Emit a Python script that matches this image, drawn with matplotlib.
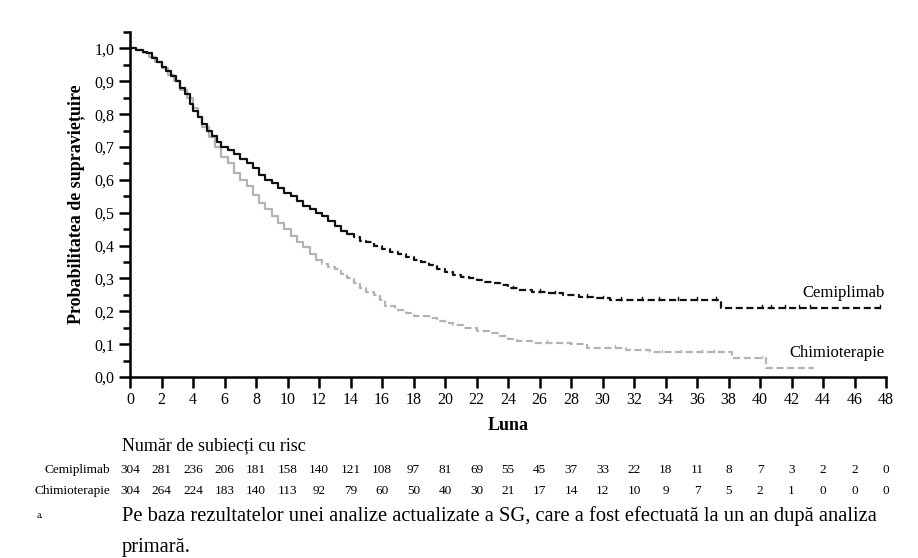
import numpy as np
import matplotlib
matplotlib.use('Agg')
import matplotlib.pyplot as plt
from matplotlib.ticker import MultipleLocator, FuncFormatter

plt.rcParams['font.family'] = ['Liberation Serif', 'DejaVu Serif']

# Kaplan-Meier knots (month, survival)
cemi_t = [0, 0.4, 0.8, 1.1, 1.4, 1.7, 2.0, 2.3, 2.6, 2.9, 3.2, 3.5, 3.8, 4.0, 4.3, 4.6,
          4.9, 5.2, 5.5, 5.8, 6.2, 6.6, 7.0, 7.4, 7.8, 8.2, 8.6, 9.0, 9.4, 9.8, 10.2,
          10.6, 11.0, 11.4, 11.8, 12.2, 12.6, 13.0, 13.4, 13.8, 14.2, 14.6, 15.0, 15.5,
          16.0, 16.5, 17.0, 17.5, 18.0, 18.5, 19.0, 19.5, 20.0, 20.5, 21.0, 21.5, 22.0,
          22.5, 23.0, 23.5, 24.0, 24.7, 25.5, 26.5, 27.5, 28.5, 29.5, 30.5, 37.5, 47.7]
cemi_s = [1.0, 0.995, 0.99, 0.985, 0.97, 0.96, 0.945, 0.93, 0.915, 0.9, 0.88, 0.86, 0.83,
          0.81, 0.79, 0.77, 0.75, 0.735, 0.715, 0.70, 0.69, 0.68, 0.665, 0.65, 0.635,
          0.615, 0.60, 0.59, 0.575, 0.56, 0.55, 0.535, 0.52, 0.51, 0.50, 0.49, 0.475,
          0.46, 0.445, 0.435, 0.425, 0.415, 0.41, 0.40, 0.39, 0.38, 0.375, 0.365, 0.355,
          0.35, 0.34, 0.33, 0.32, 0.31, 0.305, 0.30, 0.295, 0.29, 0.285, 0.28, 0.27,
          0.265, 0.26, 0.255, 0.25, 0.245, 0.24, 0.235, 0.21, 0.21]
chemo_t = [0, 0.4, 0.8, 1.2, 1.6, 2.0, 2.4, 2.8, 3.2, 3.6, 4.0, 4.3, 4.6, 5.0, 5.4, 5.8,
           6.2, 6.6, 7.0, 7.4, 7.8, 8.2, 8.6, 9.0, 9.4, 9.8, 10.2, 10.6, 11.0, 11.4, 11.8,
           12.2, 12.6, 13.0, 13.4, 13.8, 14.2, 14.6, 15.0, 15.5, 15.9, 16.2, 16.8, 17.5,
           18.0, 19.0, 19.5, 20.0, 20.5, 21.2, 22.0, 22.8, 23.4, 24.0, 24.6, 25.5, 28.0,
           29.0, 31.5, 33.0, 38.2, 40.4, 43.4]
chemo_s = [1.0, 0.995, 0.985, 0.975, 0.96, 0.94, 0.92, 0.9, 0.875, 0.85, 0.82, 0.79, 0.76,
           0.73, 0.70, 0.67, 0.65, 0.62, 0.60, 0.58, 0.555, 0.53, 0.51, 0.49, 0.47, 0.45,
           0.43, 0.41, 0.395, 0.375, 0.355, 0.345, 0.335, 0.33, 0.315, 0.30, 0.285, 0.27,
           0.26, 0.25, 0.235, 0.215, 0.205, 0.195, 0.185, 0.18, 0.17, 0.163, 0.157, 0.15,
           0.14, 0.135, 0.125, 0.115, 0.11, 0.104, 0.10, 0.088, 0.082, 0.075, 0.057, 0.028,
           0.028]

# censoring marks (tail only)
cemi_cens = [24.3, 26.0, 27.0, 29.0, 30.0, 31.2, 32.5, 33.6, 34.8, 36.0, 37.2,
             40.1, 40.7, 41.6, 42.5, 43.2, 47.6]
chemo_cens = [26.5, 30.8, 33.8, 35.0, 36.3, 37.1, 40.1]

months = list(range(0, 49, 2))
risk_cemi = [304, 281, 236, 206, 181, 158, 140, 121, 108, 97, 81, 69, 55, 45, 37, 33,
             22, 18, 11, 8, 7, 3, 2, 2, 0]
risk_chemo = [304, 264, 224, 183, 140, 113, 92, 79, 60, 50, 40, 30, 21, 17, 14, 12,
              10, 9, 7, 5, 2, 1, 0, 0, 0]


def surv_at(t, s, x):
    i = np.searchsorted(t, x, side='right') - 1
    return s[i]


def draw_km(ax, t, s, cens, split, color, lw):
    t = np.asarray(t)
    s = np.asarray(s)
    sv = surv_at(t, s, split)
    m = t < split
    t1 = np.append(t[m], split)
    s1 = np.append(s[m], sv)
    t2 = np.insert(t[~m], 0, split)
    s2 = np.insert(s[~m], 0, sv)
    ax.step(t1, s1, where='post', color=color, lw=lw, solid_capstyle='butt')
    ax.step(t2, s2, where='post', color=color, lw=lw, linestyle=(0, (3.2, 1.6)))
    for c in cens:
        y = surv_at(t, s, c)
        ax.plot([c, c], [y, y + 0.008], color=color, lw=1.0)


fig = plt.figure(figsize=(9.18, 5.58), dpi=100)
ax = fig.add_axes([130 / 918, 1 - 377 / 558, 756 / 918, 345 / 558])

draw_km(ax, chemo_t, chemo_s, chemo_cens, 12.0, '#b3b3b3', 1.6)
draw_km(ax, cemi_t, cemi_s, cemi_cens, 14.0, '#111111', 1.6)

ax.set_xlim(0, 48)
ax.set_ylim(0, 1.05)
for sp in ['top', 'right']:
    ax.spines[sp].set_visible(False)
for sp in ['left', 'bottom']:
    ax.spines[sp].set_linewidth(1.8)
ax.xaxis.set_major_locator(MultipleLocator(2))
ax.yaxis.set_major_locator(MultipleLocator(0.1))
ax.yaxis.set_minor_locator(MultipleLocator(0.05))
ax.yaxis.set_major_formatter(FuncFormatter(lambda v, p: f'{v:.1f}'.replace('.', ',')))
ax.tick_params(axis='both', which='major', direction='out', length=8, width=1.8,
               labelsize=11.5, pad=3)
ax.tick_params(axis='y', which='minor', direction='out', length=5, width=1.8)
ax.set_ylabel('Probabilitatea de supraviețuire', fontsize=13, fontweight='bold', labelpad=7)
ax.set_xlabel('Luna', fontsize=13, fontweight='bold', labelpad=6)

ax.text(47.9, 0.256, 'Cemiplimab', ha='right', va='center', fontsize=12)
ax.text(47.9, 0.073, 'Chimioterapie', ha='right', va='center', fontsize=12)

# number at risk table
fig.text(122 / 918, 1 - 446 / 558, 'Număr de subiecți cu risc', ha='left', va='center',
         fontsize=13)
y1 = 1 - 470 / 558
y2 = 1 - 491 / 558
fig.text(110 / 918, y1, 'Cemiplimab', ha='right', va='center', fontsize=9.5)
fig.text(110 / 918, y2, 'Chimioterapie', ha='right', va='center', fontsize=9.5)
for m, a, b in zip(months, risk_cemi, risk_chemo):
    xf = (130 + m * 756 / 48) / 918
    fig.text(xf, y1, str(a), ha='center', va='center', fontsize=9.5)
    fig.text(xf, y2, str(b), ha='center', va='center', fontsize=9.5)

# footnote
fig.text(37 / 918, 1 - 516 / 558, 'a.', ha='left', va='center', fontsize=7)
fig.text(122 / 918, 1 - 516 / 558,
         'Pe baza rezultatelor unei analize actualizate a SG, care a fost efectuată la un an după analiza',
         ha='left', va='center', fontsize=14.8)
fig.text(122 / 918, 1 / 558, 'primară.', ha='left', va='bottom', fontsize=14.8)

fig.savefig('out.png', dpi=100)
